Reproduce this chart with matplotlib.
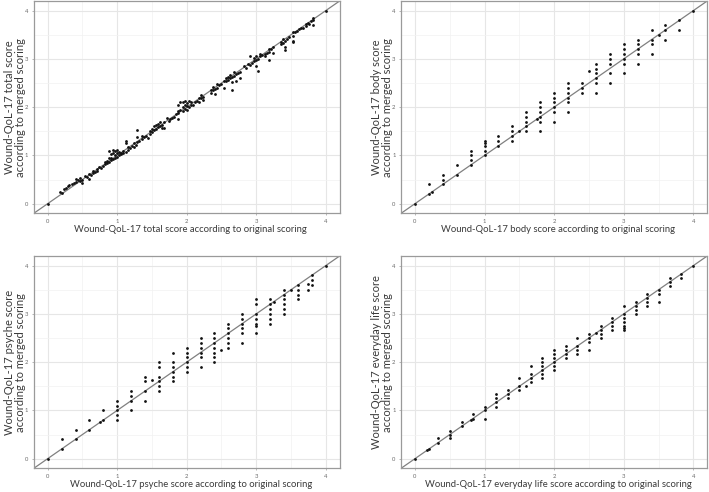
import matplotlib
matplotlib.use("Agg")
import matplotlib.pyplot as plt

plt.rcParams['font.family'] = ['Lato', 'DejaVu Sans']

# Wound-QoL-17 total score: original vs merged scoring
total_x = [0.0, 0.18, 0.2, 0.24, 0.27, 0.29, 0.31, 0.35, 0.38, 0.41, 0.41, 0.44, 0.47, 0.47, 0.5, 0.5,
           0.53, 0.56, 0.59, 0.59, 0.62, 0.65, 0.65, 0.68, 0.71, 0.71, 0.74, 0.76, 0.79, 0.82, 0.82,
           0.85, 0.85, 0.88, 0.88, 0.88, 0.91, 0.91, 0.91, 0.94, 0.94, 0.94, 0.97, 0.97, 0.97,
           1.0, 1.0, 1.0, 1.03, 1.03, 1.06, 1.06, 1.09, 1.09, 1.12, 1.12, 1.12, 1.15, 1.15, 1.18,
           1.21, 1.24, 1.24, 1.27, 1.29, 1.29, 1.29, 1.32, 1.35, 1.35, 1.38, 1.41, 1.44, 1.47, 1.47,
           1.5, 1.5, 1.53, 1.53, 1.56, 1.56, 1.59, 1.59, 1.62, 1.62, 1.65, 1.65, 1.68, 1.68, 1.71,
           1.74, 1.76, 1.79, 1.82, 1.85, 1.88, 1.88, 1.88, 1.88, 1.91, 1.91, 1.94, 1.94, 1.94,
           1.97, 1.97, 1.97, 2.0, 2.0, 2.0, 2.03, 2.03, 2.06, 2.06, 2.09, 2.12, 2.15, 2.18, 2.18,
           2.21, 2.21, 2.24, 2.24, 2.35, 2.35, 2.38, 2.38, 2.41, 2.41, 2.44, 2.44, 2.47, 2.5,
           2.53, 2.53, 2.56, 2.56, 2.59, 2.59, 2.62, 2.62, 2.65, 2.65, 2.65, 2.68, 2.68, 2.71, 2.71,
           2.74, 2.76, 2.76, 2.82, 2.85, 2.88, 2.91, 2.91, 2.94, 2.97, 2.97, 3.0, 3.0, 3.0, 3.03,
           3.03, 3.06, 3.06, 3.09, 3.12, 3.12, 3.15, 3.18, 3.18, 3.18, 3.21, 3.24, 3.24, 3.35, 3.35,
           3.38, 3.38, 3.41, 3.41, 3.41, 3.44, 3.47, 3.53, 3.53, 3.53, 3.53, 3.56, 3.59, 3.62, 3.65,
           3.68, 3.71, 3.71, 3.74, 3.76, 3.79, 3.82, 3.82, 3.82, 4.0]
total_y = [0.0, 0.25, 0.22, 0.3, 0.33, 0.36, 0.38, 0.4, 0.42, 0.45, 0.52, 0.5, 0.47, 0.53, 0.49, 0.42,
           0.58, 0.55, 0.62, 0.52, 0.6, 0.68, 0.64, 0.66, 0.72, 0.68, 0.76, 0.74, 0.79, 0.82, 0.86,
           0.85, 0.88, 0.86, 0.95, 1.1, 0.9, 1.02, 0.95, 0.92, 1.05, 1.12, 0.95, 1.0, 1.1,
           0.97, 1.04, 1.12, 1.0, 1.08, 1.02, 1.06, 1.05, 1.1, 1.08, 1.25, 1.3, 1.12, 1.18, 1.15,
           1.2, 1.18, 1.25, 1.22, 1.28, 1.38, 1.52, 1.3, 1.35, 1.4, 1.38, 1.4, 1.36, 1.45, 1.5,
           1.48, 1.55, 1.52, 1.6, 1.55, 1.62, 1.58, 1.65, 1.6, 1.7, 1.62, 1.56, 1.7, 1.56, 1.78,
           1.72, 1.75, 1.78, 1.8, 1.85, 1.88, 1.75, 1.93, 2.05, 1.95, 2.1, 1.92, 2.0, 2.1,
           1.97, 2.05, 2.12, 1.95, 2.02, 2.08, 2.0, 2.12, 2.05, 2.1, 2.05, 2.1, 2.13, 2.2, 2.1,
           2.18, 2.25, 2.22, 2.15, 2.3, 2.35, 2.35, 2.42, 2.38, 2.28, 2.4, 2.47, 2.45, 2.48,
           2.55, 2.4, 2.55, 2.6, 2.57, 2.62, 2.6, 2.67, 2.62, 2.52, 2.35, 2.65, 2.72, 2.68, 2.55,
           2.7, 2.72, 2.6, 2.85, 2.82, 2.9, 2.88, 3.05, 2.92, 2.95, 3.02, 2.98, 3.05, 2.85, 3.0,
           2.75, 3.05, 3.1, 3.08, 3.1, 3.05, 3.12, 3.15, 3.2, 2.97, 3.2, 3.25, 3.13, 3.3, 3.35,
           3.32, 3.42, 3.38, 3.25, 3.18, 3.42, 3.45, 3.48, 3.55, 3.35, 3.38, 3.55, 3.58, 3.62, 3.65,
           3.65, 3.72, 3.68, 3.75, 3.72, 3.78, 3.8, 3.85, 3.7, 4.0]

# body score
body_x = [0, 0.2, 0.2, 0.25, 0.4, 0.4, 0.4, 0.6, 0.6, 0.8, 0.8, 0.8, 0.8,
          1.0, 1.0, 1.0, 1.0, 1.0, 1.2, 1.2, 1.2, 1.4, 1.4, 1.4, 1.4, 1.5,
          1.6, 1.6, 1.6, 1.6, 1.6, 1.75, 1.8, 1.8, 1.8, 1.8, 1.8, 1.8,
          2.0, 2.0, 2.0, 2.0, 2.0, 2.0, 2.2, 2.2, 2.2, 2.2, 2.2, 2.2, 2.4, 2.4, 2.4, 2.5,
          2.6, 2.6, 2.6, 2.6, 2.6, 2.6, 2.8, 2.8, 2.8, 2.8, 2.8,
          3.0, 3.0, 3.0, 3.0, 3.0, 3.0, 3.2, 3.2, 3.2, 3.2, 3.2, 3.4, 3.4, 3.4, 3.4, 3.5,
          3.6, 3.6, 3.6, 3.8, 3.8, 4.0]
body_y = [0, 0.4, 0.2, 0.25, 0.6, 0.5, 0.4, 0.8, 0.6, 1.1, 1.0, 0.9, 0.8,
          1.3, 1.25, 1.2, 1.1, 1.0, 1.4, 1.3, 1.2, 1.6, 1.5, 1.4, 1.3, 1.5,
          1.9, 1.8, 1.7, 1.6, 1.5, 1.75, 2.1, 2.0, 1.9, 1.8, 1.7, 1.5,
          2.3, 2.2, 2.1, 2.0, 1.9, 1.7, 2.5, 2.4, 2.3, 2.2, 2.1, 1.9, 2.5, 2.4, 2.3, 2.75,
          2.9, 2.8, 2.7, 2.6, 2.5, 2.3, 3.1, 3.0, 2.9, 2.7, 2.5,
          3.3, 3.2, 3.1, 3.0, 2.9, 2.7, 3.4, 3.3, 3.2, 3.1, 2.9, 3.6, 3.4, 3.3, 3.1, 3.5,
          3.7, 3.6, 3.4, 3.8, 3.6, 4.0]

# psyche score
psyche_x = [0, 0.2, 0.2, 0.4, 0.4, 0.6, 0.6, 0.75, 0.8, 0.8,
            1.0, 1.0, 1.0, 1.0, 1.0, 1.2, 1.2, 1.2, 1.2, 1.4, 1.4, 1.4, 1.4, 1.5,
            1.6, 1.6, 1.6, 1.6, 1.6, 1.6, 1.8, 1.8, 1.8, 1.8, 1.8, 1.8,
            2.0, 2.0, 2.0, 2.0, 2.0, 2.0, 2.2, 2.2, 2.2, 2.2, 2.2, 2.2,
            2.4, 2.4, 2.4, 2.4, 2.4, 2.4, 2.4, 2.5,
            2.6, 2.6, 2.6, 2.6, 2.6, 2.6, 2.8, 2.8, 2.8, 2.8, 2.8, 2.8,
            3.0, 3.0, 3.0, 3.0, 3.0, 3.0, 3.0, 3.2, 3.2, 3.2, 3.2, 3.2, 3.2, 3.25,
            3.4, 3.4, 3.4, 3.4, 3.4, 3.4, 3.5, 3.6, 3.6, 3.6, 3.6, 3.75, 3.75,
            3.8, 3.8, 3.8, 4.0]
psyche_y = [0, 0.4, 0.2, 0.6, 0.4, 0.8, 0.6, 0.75, 1.0, 0.8,
            1.2, 1.1, 1.0, 0.9, 0.8, 1.4, 1.3, 1.2, 1.0, 1.7, 1.6, 1.4, 1.2, 1.63,
            2.0, 1.9, 1.7, 1.6, 1.5, 1.4, 2.2, 2.0, 1.9, 1.8, 1.7, 1.6,
            2.3, 2.2, 2.1, 2.0, 1.9, 1.8, 2.5, 2.4, 2.3, 2.2, 2.1, 1.9,
            2.6, 2.5, 2.4, 2.3, 2.2, 2.1, 2.0, 2.25,
            2.8, 2.7, 2.6, 2.5, 2.4, 2.3, 3.0, 2.9, 2.8, 2.7, 2.6, 2.4,
            3.3, 3.2, 3.0, 2.9, 2.8, 2.75, 2.6, 3.3, 3.2, 3.1, 3.0, 2.9, 2.8, 3.25,
            3.5, 3.4, 3.3, 3.2, 3.1, 3.0, 3.5, 3.6, 3.5, 3.4, 3.3, 3.63, 3.5,
            3.8, 3.7, 3.6, 4.0]

# everyday life score
life_x = [0, 0.17, 0.2, 0.33, 0.33, 0.5, 0.5, 0.5, 0.67, 0.67, 0.8, 0.83, 0.83,
          1.0, 1.0, 1.0, 1.17, 1.17, 1.17, 1.17, 1.33, 1.33, 1.33, 1.5, 1.5, 1.5, 1.6,
          1.67, 1.67, 1.67, 1.67, 1.83, 1.83, 1.83, 1.83, 1.83, 1.83,
          2.0, 2.0, 2.0, 2.0, 2.0, 2.0, 2.17, 2.17, 2.17, 2.17, 2.33, 2.33, 2.33, 2.33,
          2.5, 2.5, 2.5, 2.5, 2.6, 2.67, 2.67, 2.67, 2.67, 2.83, 2.83, 2.83, 2.83,
          3.0, 3.0, 3.0, 3.0, 3.0, 3.0, 3.0, 3.17, 3.17, 3.17, 3.17,
          3.33, 3.33, 3.33, 3.33, 3.5, 3.5, 3.5, 3.67, 3.67, 3.67, 3.83, 3.83, 4.0]
life_y = [0, 0.17, 0.2, 0.42, 0.33, 0.58, 0.5, 0.42, 0.75, 0.67, 0.8, 0.92, 0.83,
          1.08, 1.0, 0.83, 1.33, 1.25, 1.17, 1.08, 1.42, 1.33, 1.25, 1.67, 1.5, 1.42, 1.5,
          1.92, 1.75, 1.67, 1.58, 2.08, 2.0, 1.92, 1.83, 1.75, 1.67,
          2.25, 2.17, 2.08, 2.0, 1.92, 1.83, 2.33, 2.25, 2.17, 2.08, 2.5, 2.33, 2.25, 2.17,
          2.58, 2.5, 2.42, 2.25, 2.6, 2.75, 2.67, 2.58, 2.5, 2.92, 2.83, 2.75, 2.67,
          3.17, 3.0, 2.92, 2.83, 2.75, 2.71, 2.67, 3.25, 3.17, 3.08, 3.0,
          3.42, 3.33, 3.25, 3.17, 3.5, 3.42, 3.25, 3.75, 3.67, 3.58, 3.83, 3.75, 4.0]

panels = [
    (total_x, total_y, "total score", [33.8 / 709, 1 - 213.3 / 492, 305.8 / 709, 212.3 / 492]),
    (body_x, body_y, "body score", [401.1 / 709, 1 - 213.3 / 492, 306.1 / 709, 212.3 / 492]),
    (psyche_x, psyche_y, "psyche score", [33.8 / 709, 1 - 468.3 / 492, 305.8 / 709, 212.3 / 492]),
    (life_x, life_y, "everyday life score", [401.1 / 709, 1 - 468.3 / 492, 306.1 / 709, 212.3 / 492]),
]

fig = plt.figure(figsize=(7.09, 4.92), dpi=100)

for xs, ys, name, rect in panels:
    ax = fig.add_axes(rect)
    ax.set_xlim(-0.2, 4.2)
    ax.set_ylim(-0.2, 4.2)
    ax.set_xticks([0, 1, 2, 3, 4])
    ax.set_yticks([0, 1, 2, 3, 4])
    ax.set_xticks([0.5, 1.5, 2.5, 3.5], minor=True)
    ax.set_yticks([0.5, 1.5, 2.5, 3.5], minor=True)
    ax.grid(True, which='major', color='#e6e6e6', linewidth=0.8)
    ax.grid(True, which='minor', color='#f2f2f2', linewidth=0.5)
    ax.set_axisbelow(True)
    ax.axline((0, 0), (1, 1), color='#808080', linewidth=0.9, zorder=2)
    ax.scatter(xs, ys, s=4, color='#111111', linewidths=0, zorder=3)
    for sp in ax.spines.values():
        sp.set_color('#9a9a9a')
        sp.set_linewidth(0.9)
    ax.tick_params(which='major', length=1.5, width=0.5, color='#9a9a9a',
                   labelsize=4.2, labelcolor='#6a6a6a', pad=2.5)
    ax.tick_params(which='minor', length=0)
    ax.set_xlabel("Wound-QoL-17 " + name + " according to original scoring",
                  fontsize=6.8, color='#3a3a3a', va='center')
    ax.xaxis.set_label_coords(0.5 + 4 / 306, -16.5 / 212.3)
    ax.set_ylabel("Wound-QoL-17 " + name + "\naccording to merged scoring",
                  fontsize=8.0, color='#3a3a3a', va='center', linespacing=1.05)
    ax.yaxis.set_label_coords(-19 / 306, 0.5)

fig.savefig("out.png", dpi=100)
